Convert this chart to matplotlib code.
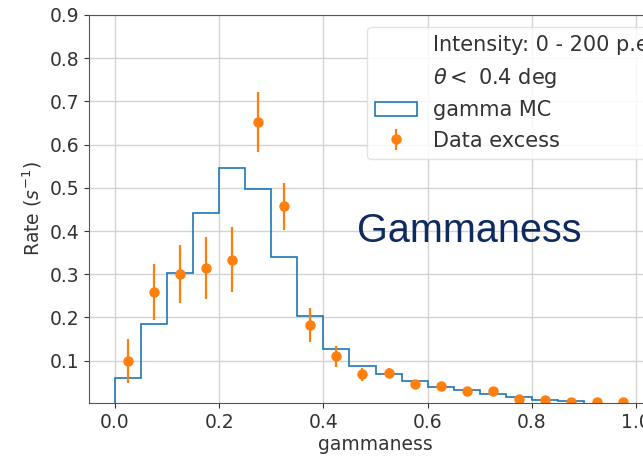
import numpy as np
import matplotlib
matplotlib.use("Agg")
import matplotlib.pyplot as plt
from matplotlib.lines import Line2D

# ---- data ----
bin_edges = [0.00, 0.05, 0.10, 0.15, 0.20, 0.25, 0.30, 0.35, 0.40, 0.45, 0.50,
             0.55, 0.60, 0.65, 0.70, 0.75, 0.80, 0.85, 0.90, 0.95, 1.00]
mc_rate = [0.061, 0.185, 0.302, 0.442, 0.545, 0.498, 0.339, 0.204, 0.128, 0.088,
           0.068, 0.052, 0.040, 0.031, 0.023, 0.016, 0.010, 0.006, 0.0, 0.0]
data_x = [0.025, 0.075, 0.125, 0.175, 0.225, 0.275, 0.325, 0.375, 0.425, 0.475,
          0.525, 0.575, 0.625, 0.675, 0.725, 0.775, 0.825, 0.875, 0.925, 0.975]
data_rate = [0.099, 0.258, 0.300, 0.314, 0.334, 0.653, 0.457, 0.183, 0.110, 0.068,
             0.072, 0.047, 0.041, 0.029, 0.029, 0.011, 0.008, 0.0045, 0.0045, 0.0045]
data_err = [0.051, 0.065, 0.067, 0.072, 0.075, 0.069, 0.055, 0.040, 0.025, 0.015,
            0.010, 0.007, 0.006, 0.005, 0.005, 0.004, 0.003, 0.002, 0.002, 0.002]
x_ticks = [0.0, 0.2, 0.4, 0.6, 0.8, 1.0]
y_ticks = [0.1, 0.2, 0.3, 0.4, 0.5, 0.6, 0.7, 0.8, 0.9]

FS = 13.5
LEG_FS = 15
plt.rcParams['font.family'] = ['DejaVu Sans']

fig = plt.figure(figsize=(6.43, 4.58), dpi=100)
W, H = 643, 458
ax = fig.add_axes([89 / W, (H - 403) / H, (662 - 89) / W, (403 - 15) / H])

centers = [(a + b) / 2 for a, b in zip(bin_edges[:-1], bin_edges[1:])]
ax.hist(centers, bins=bin_edges, weights=mc_rate, histtype='step',
        color='#1f77b4', lw=1.2, label='gamma MC')
ax.errorbar(data_x, data_rate, yerr=data_err, fmt='o', color='#ff7f0e',
            markersize=6.5, elinewidth=1.6, capsize=0, label='Data excess')

ax.set_xlim(-0.05, 1.05)
ax.set_ylim(0.002, 0.9)
ax.set_xticks(x_ticks)
ax.set_yticks(y_ticks)
ax.set_xticklabels([f"{v:.1f}" for v in x_ticks])
ax.set_yticklabels([f"{v:.1f}" for v in y_ticks])
ax.tick_params(labelsize=FS, colors='#333333', labelcolor='#333333')
ax.grid(True, color='#d3d3d3', lw=1.0)
ax.set_axisbelow(True)
for s in ax.spines.values():
    s.set_color('#555555')

ax.set_xlabel('gammaness', fontsize=FS, color='#333333', labelpad=2)
ax.set_ylabel(r'Rate ($s^{-1}$)', fontsize=FS, color='#333333')

h, l = ax.get_legend_handles_labels()
blank = Line2D([], [], linestyle='none', marker=None)
handles = [blank, blank] + h
labels = ['Intensity: 0 - 200 p.e.', r'$\theta<$ 0.4 deg'] + l
leg = ax.legend(handles, labels, loc='upper right', fontsize=LEG_FS,
                labelspacing=0.5, framealpha=0.85, edgecolor='#dddddd',
                borderaxespad=0.0,
                bbox_to_anchor=(1.0 + 2 / 573, 1.0 - 12 / 388))
for t in leg.get_texts():
    t.set_color('#333333')

fig.text(357 / W, 1 - 242 / H, 'Gammaness', fontsize=28.5, color='#0e2a5e',
         family='Liberation Sans', ha='left', va='baseline')

fig.savefig('out.png', dpi=100)
